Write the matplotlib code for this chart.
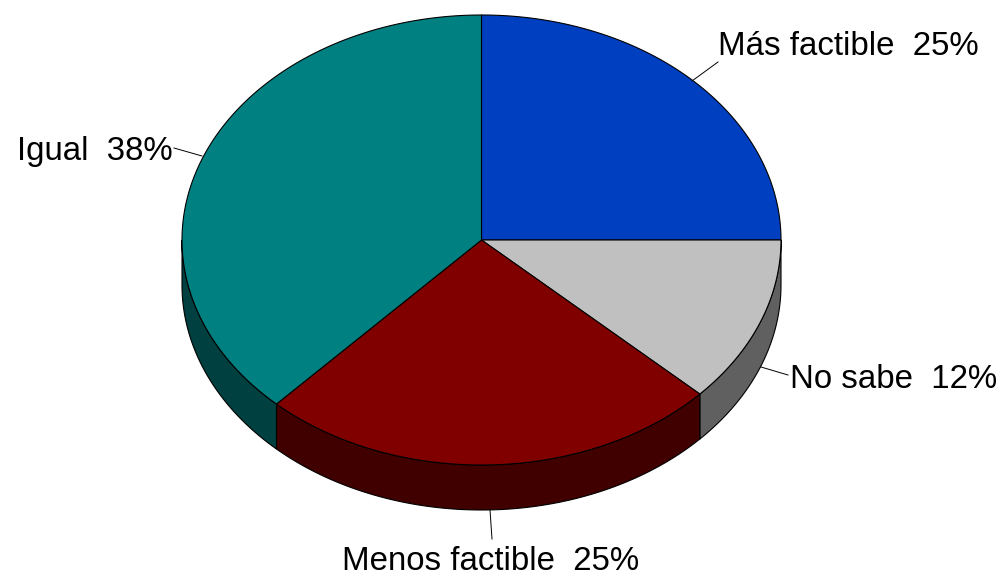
import numpy as np
import matplotlib
matplotlib.use('Agg')
import matplotlib.pyplot as plt
from matplotlib.patches import Polygon

labels = ['Más factible', 'No sabe', 'Menos factible', 'Igual']
values = [25, 12, 25, 38]
shown = ['25%', '12%', '25%', '38%']
colors = ['#0040C0', '#C0C0C0', '#800000', '#008080']
side_colors = ['#002060', '#606060', '#400000', '#004040']

cx, cy = 481.5, 240
rx, ry = 299.5, 225
depth = 45

# text position (left edge, baseline) and leader line end points
label_pos = [(718, 55), (790, 388), (342, 570), (17, 160)]
leader_from = [(692, 81), (761, 367), (490, 510), (202, 156)]
leader_to = [(718, 62), (788, 375), (492, 539), (174, 148)]


def rim(a, b):
    t = np.radians(np.linspace(a, b, 200))
    return cx + rx * np.cos(t), cy - ry * np.sin(t)


fig = plt.figure(figsize=(10.03, 5.72), dpi=100)
ax = fig.add_axes([0, 0, 1, 1])
ax.set_xlim(0, 1003)
ax.set_ylim(572, 0)
ax.axis('off')

start = 90.0
angles = []
for v in values:
    end = start - v * 360 / sum(values)
    angles.append((start, end))
    start = end

# side walls first, only the front half of the pie shows any
for (a, b), sc in zip(angles, side_colors):
    lo, hi = max(b, -180), min(a, 0)
    if b < -180:
        lo, hi = -180, a
    if lo >= hi:
        continue
    x, y = rim(hi, lo)
    pts = np.column_stack([np.r_[x, x[::-1]], np.r_[y, y[::-1] + depth]])
    ax.add_patch(Polygon(pts, closed=True, fc=sc, ec='black', lw=0.8))

for (a, b), c in zip(angles, colors):
    x, y = rim(a, b)
    pts = np.column_stack([np.r_[cx, x], np.r_[cy, y]])
    ax.add_patch(Polygon(pts, closed=True, fc=c, ec='black', lw=0.8))

for name, pct, pos, p0, p1 in zip(labels, shown, label_pos, leader_from, leader_to):
    ax.plot([p0[0], p1[0]], [p0[1], p1[1]], color='black', lw=0.7)
    ax.text(pos[0], pos[1], f'{name}  {pct}', fontsize=23.8, family='Liberation Sans',
            ha='left', va='baseline', color='black', clip_on=False)

fig.savefig('out.png', dpi=100, facecolor='white')
